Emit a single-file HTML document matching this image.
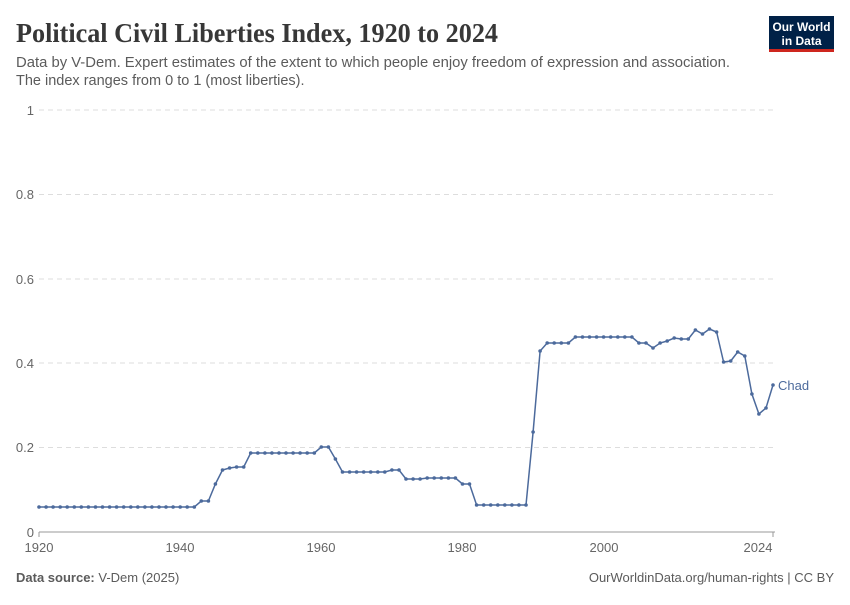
<!DOCTYPE html>
<html><head><meta charset="utf-8"><style>
body{margin:0;background:#fff;width:850px;height:600px;overflow:hidden;font-family:"Liberation Sans",sans-serif}
</style></head><body>
<svg id="s" width="850" height="600" xmlns="http://www.w3.org/2000/svg">
<text x="16" y="42" font-family="Liberation Serif,serif" font-size="27" font-weight="600" fill="#373737" textLength="482" lengthAdjust="spacingAndGlyphs">Political Civil Liberties Index, 1920 to 2024</text>
<text x="16" y="67" font-size="14.5" fill="#5b5b5b" textLength="714" lengthAdjust="spacingAndGlyphs">Data by V-Dem. Expert estimates of the extent to which people enjoy freedom of expression and association.</text>
<text x="16" y="85" font-size="14.5" fill="#5b5b5b">The index ranges from 0 to 1 (most liberties).</text>
<rect x="769" y="16" width="65" height="34" fill="#002147"/>
<rect x="769" y="49" width="65" height="3" fill="#ce261e"/>
<text x="801.5" y="31" font-size="12" font-weight="bold" fill="#fff" text-anchor="middle" textLength="58" lengthAdjust="spacingAndGlyphs">Our World</text>
<text x="801.5" y="45" font-size="12" font-weight="bold" fill="#fff" text-anchor="middle">in Data</text>
<g stroke="#ddd" stroke-dasharray="5,4" stroke-width="1">
<line x1="39" x2="775" y1="110" y2="110"/><line x1="39" x2="775" y1="194.5" y2="194.5"/>
<line x1="39" x2="775" y1="279" y2="279"/><line x1="39" x2="775" y1="363" y2="363"/>
<line x1="39" x2="775" y1="447.5" y2="447.5"/></g>
<line x1="39" x2="775" y1="532" y2="532" stroke="#999"/>
<g font-size="13" fill="#666" text-anchor="end">
<text x="34" y="115">1</text><text x="34" y="199">0.8</text><text x="34" y="284">0.6</text>
<text x="34" y="368">0.4</text><text x="34" y="452">0.2</text><text x="34" y="537">0</text></g>
<g font-size="13" fill="#666" text-anchor="middle">
<text x="39" y="552">1920</text><text x="180" y="552">1940</text><text x="321" y="552">1960</text>
<text x="462" y="552">1980</text><text x="604" y="552">2000</text><text x="758" y="552">2024</text></g>
<g stroke="#999"><line x1="39" x2="39" y1="532" y2="537"/><line x1="773" x2="773" y1="532" y2="537"/></g>
<text x="778" y="390" font-size="13" fill="#4c6a9c">Chad</text>
<text x="16" y="582" font-size="13" fill="#5b5b5b"><tspan font-weight="bold">Data source:</tspan> V-Dem (2025)</text>
<text x="834" y="582" font-size="13" fill="#5b5b5b" text-anchor="end">OurWorldinData.org/human-rights | CC BY</text>
<g id="d"></g>
</svg>
<script>
var y=[];for(var i=0;i<23;i++)y.push(507);
y=y.concat([501,501,484,470,468,467,467]);
for(i=0;i<10;i++)y.push(453);
y=y.concat([447,447,459]);for(i=0;i<7;i++)y.push(472);
y=y.concat([470,470,479,479,479,478,478,478,478,478,484,484]);
for(i=0;i<8;i++)y.push(505);
y=y.concat([432,351,343,343,343,343]);for(i=0;i<9;i++)y.push(337);
y=y.concat([343,343,348,343,341,338,339,339,330,334,329,332,362,361,352,356,394,414,408,385]);
var g=document.getElementById('d'),p='',c='';
for(i=0;i<y.length;i++){var x=39+i*7.058;p+=(i?'L':'M')+x.toFixed(1)+' '+y[i];c+='<circle cx="'+x.toFixed(1)+'" cy="'+y[i]+'" r="1.8" fill="#4c6a9c"/>';}
g.innerHTML='<path d="'+p+'" fill="none" stroke="#4c6a9c" stroke-width="1.5"/>'+c;
</script>
</body></html>
